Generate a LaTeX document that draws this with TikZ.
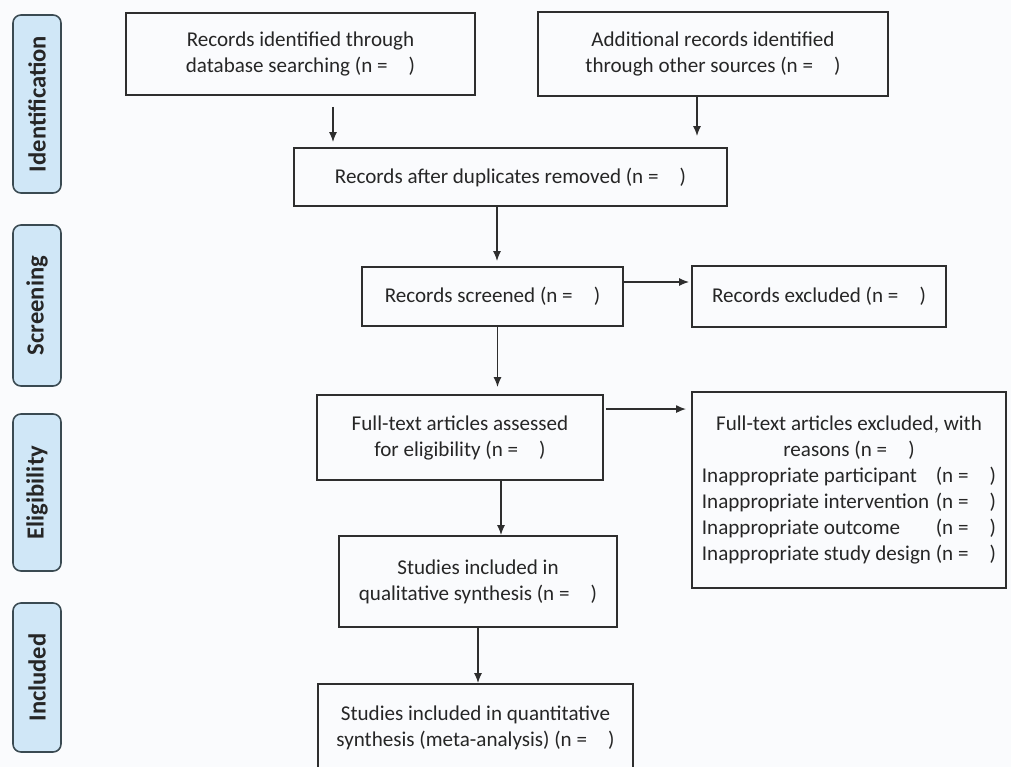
\documentclass[tikz,border=0pt]{standalone}
\usepackage{fontspec}
\setmainfont{Carlito}
\usetikzlibrary{arrows.meta,calc}
\definecolor{boxline}{HTML}{2E2E2E}
\definecolor{boxtext}{HTML}{262626}
\definecolor{stagefill}{HTML}{D0E7F7}
\definecolor{stageline}{HTML}{3A4A52}
\definecolor{bgpage}{HTML}{FAFBFD}
\newcommand{\ncount}{(n =\quad)}
\begin{document}
\begin{tikzpicture}[x=0.02cm, y=-0.02cm, >={Latex[length=5.7pt,width=4.6pt]},
    box/.style = {draw=boxline, line width=1.1pt, align=center, text=boxtext, inner sep=2pt,
                  font=\fontsize{12}{14.8}\selectfont},
    stage/.style = {draw=stageline, line width=0.9pt, fill=stagefill, rounded corners=4.5pt,
                    rotate=90, minimum height=0.96cm, inner sep=0pt, text=boxtext,
                    font=\fontsize{14}{16}\selectfont\bfseries},
    link/.style = {->, draw=boxline, line width=0.85pt}]
    \clip (0,0) rectangle (1011,767);
    \fill[bgpage] (0,0) rectangle (1011,767);
    % stages
    \node[stage, minimum width=3.56cm] (ident) at (37,104) {Identification};
    \node[stage, minimum width=3.22cm] (scrn) at (37,305.5) {Screening};
    \node[stage, minimum width=3.14cm] (elig) at (37,492.5) {Eligibility};
    \node[stage, minimum width=2.98cm] (incl) at (37,677.5) {Included};
    % boxes
    \node[box, minimum width=6.98cm, minimum height=1.64cm] (recdb) at (300.5,54) {Records identified through\\database searching \ncount};
    \node[box, minimum width=7.0cm, minimum height=1.68cm] (recoth) at (713,54) {Additional records identified\\through other sources \ncount};
    \node[box, minimum width=8.66cm, minimum height=1.16cm] (dedup) at (510.5,177) {Records after duplicates removed \ncount};
    \node[box, minimum width=5.22cm, minimum height=1.18cm] (screen) at (492.5,296.5) {Records screened \ncount};
    \node[box, minimum width=5.08cm, minimum height=1.22cm] (excl) at (819,296.5) {Records excluded \ncount};
    \node[box, minimum width=5.72cm, minimum height=1.7cm] (full) at (460,437.5) {Full-text articles assessed\\for eligibility \ncount};
    \node[box, minimum width=6.28cm, minimum height=3.92cm] (fullex) at (849,490) {%
        \begin{tabular}{@{}l@{\ }l@{}}
        \multicolumn{2}{@{}c@{}}{Full-text articles excluded, with}\\
        \multicolumn{2}{@{}c@{}}{reasons \ncount}\\
        Inappropriate participant & \ncount\\
        Inappropriate intervention & \ncount\\
        Inappropriate outcome & \ncount\\
        Inappropriate study design & \ncount
        \end{tabular}};
    \node[box, minimum width=5.56cm, minimum height=1.82cm] (qual) at (478,581.5) {Studies included in\\qualitative synthesis \ncount};
    \node[box, minimum width=6.3cm, minimum height=1.76cm] (quant) at (475.5,728) {Studies included in quantitative\\synthesis (meta-analysis) \ncount};
    % arrows
    \draw[link] ($(recdb.south)+(32.5,11)$) -- ($(recdb.south |- dedup.north)+(32.5,-5)$);
    \draw[link] ($(recoth.south)+(-16,0)$) -- ($(recoth.south |- dedup.north)+(-16,-11)$);
    \draw[link] ($(dedup.south)+(-13.5,0)$) -- ($(dedup.south |- screen.north)+(-13.5,-5)$);
    \draw[link] ($(screen.east)+(0,-14.5)$) -- ($(screen.east -| excl.west)+(-2,-14.5)$);
    \draw[link] ($(screen.south)+(5,0)$) -- ($(screen.south |- full.north)+(5,-7)$);
    \draw[link] ($(full.north east)+(2,15)$) -- ($(full.north east -| fullex.west)+(-5,15)$);
    \draw[link] ($(full.south)+(41,0)$) -- ($(full.south |- qual.north)+(41,0)$);
    \draw[link] (qual.south) -- (qual.south |- quant.north);
\end{tikzpicture}
\end{document}
